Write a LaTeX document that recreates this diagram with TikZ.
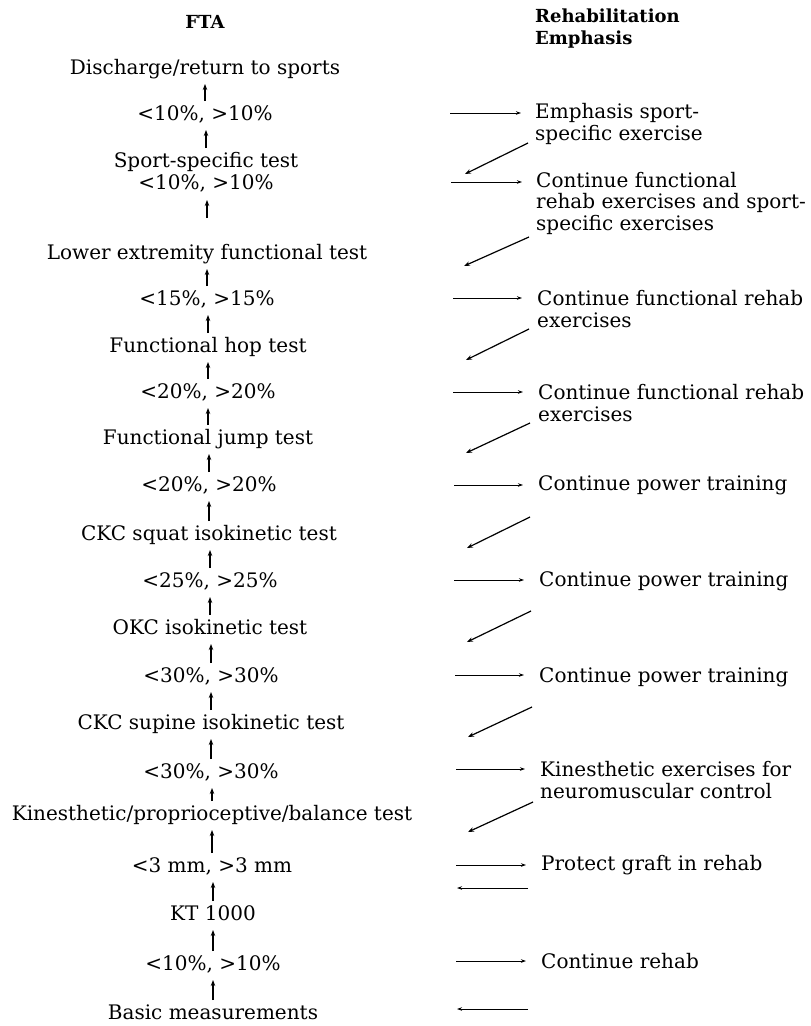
\documentclass[tikz,border=0pt]{standalone}
\usepackage{fontspec}
\setmainfont{DejaVu Serif}
\usetikzlibrary{arrows.meta}
\begin{document}
\begin{tikzpicture}[x=1pt,y=-1pt,
  every node/.style={inner sep=0pt,font=\fontsize{20}{21.5}\selectfont},
  lbl/.style={text height=15pt,text depth=5pt,anchor=center},
  rt/.style={anchor=west,align=left},
  hdr/.style={font=\fontsize{18}{22}\selectfont\bfseries},
  vup/.style={-{Stealth[length=6pt,width=4.5pt]},line width=1.3pt,shorten <=14pt,shorten >=15pt},
  hr/.style={-{Stealth[length=5pt,width=3.5pt]},line width=1pt},
  dg/.style={-{Stealth[length=6pt,width=4.5pt]},line width=1.2pt}]
\useasboundingbox (0,0) rectangle (811,1026);
% headers
\node[hdr] (fta) at (205,22) {FTA};
\node[hdr,anchor=west,align=left] (rehab) at (535,29) {Rehabilitation\\Emphasis};
% left column
\node[lbl] (d)   at (205,69)  {Discharge/return to sports};
\node[lbl] (p1)  at (205,115) {<10\%, >10\%};
\node[lbl] (s)   at (206,162) {Sport-specific test};
\node[lbl] (p2)  at (206,184) {<10\%, >10\%};
\node[lbl] (lx)  at (207,254) {Lower extremity functional test};
\node[lbl] (p3)  at (207,300) {<15\%, >15\%};
\node[lbl] (hop) at (208,347) {Functional hop test};
\node[lbl] (p4)  at (208,393) {<20\%, >20\%};
\node[lbl] (jmp) at (208,439) {Functional jump test};
\node[lbl] (p5)  at (209,486) {<20\%, >20\%};
\node[lbl] (sq)  at (209,535) {CKC squat isokinetic test};
\node[lbl] (p6)  at (210,582) {<25\%, >25\%};
\node[lbl] (okc) at (210,629) {OKC isokinetic test};
\node[lbl] (p7)  at (211,677) {<30\%, >30\%};
\node[lbl] (sup) at (211,724) {CKC supine isokinetic test};
\node[lbl] (p8)  at (211,773) {<30\%, >30\%};
\node[lbl] (kin) at (212,815) {Kinesthetic/proprioceptive/balance test};
\node[lbl] (p9)  at (212,867) {<3 mm, >3 mm};
\node[lbl] (kt)  at (213,915) {KT 1000};
\node[lbl] (p10) at (213,965) {<10\%, >10\%};
\node[lbl] (bas) at (213,1014) {Basic measurements};
% vertical arrows (kept exactly vertical)
\draw[vup] (p1.center) -- (p1.center |- d.center);
\draw[vup] (s.center) -- (s.center |- p1.center);
\draw[vup,shorten <=36pt,shorten >=16pt] (lx.center) -- (lx.center |- p2.center);
\draw[vup] (p3.center) -- (p3.center |- lx.center);
\draw[vup] (hop.center) -- (hop.center |- p3.center);
\draw[vup] (p4.center) -- (p4.center |- hop.center);
\draw[vup] (jmp.center) -- (jmp.center |- p4.center);
\draw[vup] (p5.center) -- (p5.center |- jmp.center);
\draw[vup] (sq.center) -- (sq.center |- p5.center);
\draw[vup] (p6.center) -- (p6.center |- sq.center);
\draw[vup] (okc.center) -- (okc.center |- p6.center);
\draw[vup] (p7.center) -- (p7.center |- okc.center);
\draw[vup] (sup.center) -- (sup.center |- p7.center);
\draw[vup] (p8.center) -- (p8.center |- sup.center);
\draw[vup] (kin.center) -- (kin.center |- p8.center);
\draw[vup] (p9.center) -- (p9.center |- kin.center);
\draw[vup] (kt.center) -- (kt.center |- p9.center);
\draw[vup] (p10.center) -- (p10.center |- kt.center);
\draw[vup] (bas.center) -- (bas.center |- p10.center);
% right column texts
\node[rt] (t1)  at (535,124) {Emphasis sport-\\specific exercise};
\node[rt] (t2)  at (536,203) {Continue functional\\rehab exercises and sport-\\specific exercises};
\node[rt] (t3)  at (537,309) {Continue functional rehab\\exercises};
\node[rt] (t4)  at (538,403) {Continue functional rehab\\exercises};
\node[rt] (t5)  at (538,485) {Continue power training};
\node[rt] (t6)  at (539,581) {Continue power training};
\node[rt] (t7)  at (539,677) {Continue power training};
\node[rt] (t8)  at (540,780) {Kinesthetic exercises for\\neuromuscular control};
\node[rt] (t9)  at (541,865) {Protect graft in rehab};
\node[rt] (t10) at (541,961) {Continue rehab};
% horizontal arrow coordinates
\coordinate (h1s) at (450,113);  \coordinate (h1e) at (521,113);
\coordinate (h2s) at (451,182);  \coordinate (h2e) at (522,182);
\coordinate (h3s) at (453,298);  \coordinate (h3e) at (522,298);
\coordinate (h4s) at (453,392);  \coordinate (h4e) at (523,392);
\coordinate (h5s) at (454,485);  \coordinate (h5e) at (523,485);
\coordinate (h6s) at (454,580);  \coordinate (h6e) at (524,580);
\coordinate (h7s) at (455,675);  \coordinate (h7e) at (524,675);
\coordinate (h8s) at (456,769);  \coordinate (h8e) at (525,769);
\coordinate (h9s) at (456,865);  \coordinate (h9e) at (526,865);
\coordinate (b1s) at (528,888);  \coordinate (b1e) at (457,888);
\coordinate (h10s) at (456,961); \coordinate (h10e) at (526,961);
\coordinate (b2s) at (528,1009); \coordinate (b2e) at (457,1009);
\foreach \i in {1,...,10} {\draw[hr] (h\i s) -- (h\i e);}
\draw[hr] (b1s) -- (b1e);
\draw[hr] (b2s) -- (b2e);
% diagonal arrows
\coordinate (g1s) at (528,143); \coordinate (g1e) at (465,174);
\coordinate (g2s) at (529,237); \coordinate (g2e) at (464,266);
\coordinate (g3s) at (529,329); \coordinate (g3e) at (466,360);
\coordinate (g4s) at (530,423); \coordinate (g4e) at (466,453);
\coordinate (g5s) at (530,517); \coordinate (g5e) at (467,548);
\coordinate (g6s) at (531,611); \coordinate (g6e) at (467,642);
\coordinate (g7s) at (532,707); \coordinate (g7e) at (468,737);
\coordinate (g8s) at (533,802); \coordinate (g8e) at (468,832);
\foreach \i in {1,...,8} {\draw[dg] (g\i s) -- (g\i e);}
\end{tikzpicture}
\end{document}
